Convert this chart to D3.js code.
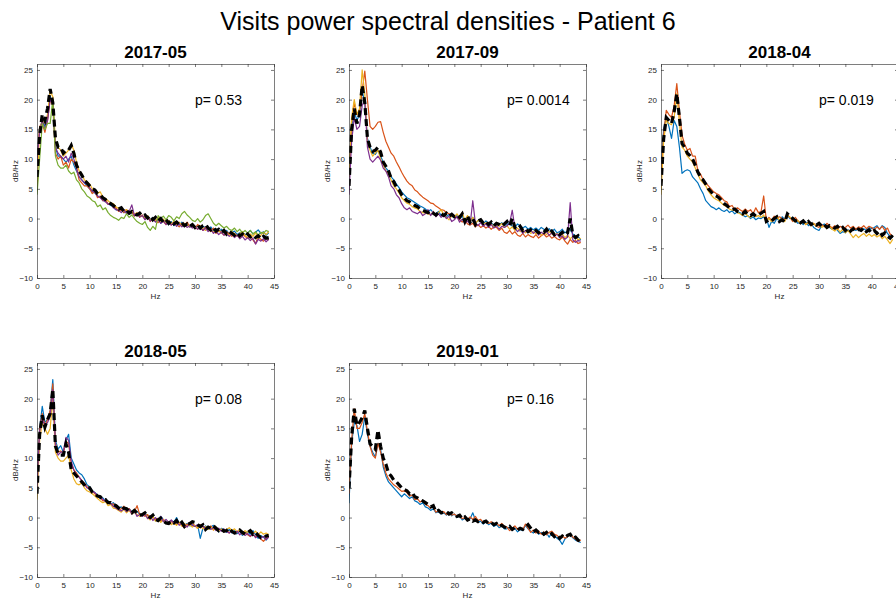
<!DOCTYPE html>
<html>
<head>
<meta charset="utf-8">
<script src="https://cdn.jsdelivr.net/npm/d3@7"></script>
<style>
  html, body { margin: 0; padding: 0; background: #fff; }
  svg { display: block; font-family: "Liberation Sans", Arial, Helvetica, sans-serif; }
</style>
</head>
<body>
<svg id="chart" width="896" height="600"></svg>
<script>
// ---------------- DATA ----------------
const mainTitle = "Visits power spectral densities - Patient 6";
const panelTitles = ["2017-05", "2017-09", "2018-04", "2018-05", "2019-01"];
const pValues = ["0.53", "0.0014", "0.019", "0.08", "0.16"];
const xTicks = [0, 5, 10, 15, 20, 25, 30, 35, 40, 45];
const yTicks = [-10, -5, 0, 5, 10, 15, 20, 25];
const xLabel = "Hz";
const yLabel = "dB/Hz";

const freqs = [
  0, 0.5, 1, 1.5, 2, 2.5, 3, 3.5, 4, 4.5,
  5, 5.5, 6, 6.5, 7, 7.5, 8, 8.5, 9, 9.5,
  10, 10.5, 11, 11.5, 12, 12.5, 13, 13.5, 14, 14.5,
  15, 15.5, 16, 16.5, 17, 17.5, 18, 18.5, 19, 19.5,
  20, 20.5, 21, 21.5, 22, 22.5, 23, 23.5, 24, 24.5,
  25, 25.5, 26, 26.5, 27, 27.5, 28, 28.5, 29, 29.5,
  30, 30.5, 31, 31.5, 32, 32.5, 33, 33.5, 34, 34.5,
  35, 35.5, 36, 36.5, 37, 37.5, 38, 38.5, 39, 39.5,
  40, 40.5, 41, 41.5, 42, 42.5, 43, 43.5, 44
];

// Panel 1: 2017-05
const p1Blue = [10,15,16.5,15.5,17,20.5,19.5,12,10.5,10.5, 10,9.5,10,10.5,9,8,7,6.5,6,5.5, 5,4.5,4.3,3.8,3.6,3,3,2.5,2.2,2, 1.5,1.3,1.6,1,1.2,0.7,1,0.5,0.8,0.3, 0.5,0,0.4,-0.3,0.2,-0.5,0,-0.8,-0.3,-0.6, -1,-0.5,-1.2,-0.7,-1.1,-0.6,-1.3,-0.9,-1.5,-1, -1.6,-1.2,-1.8,-1.3,-1.5,-1.9,-1.4,-2,-1.7,-2.2, -1.8,-2.4,-2,-2.6,-2.3,-2.1,-2.7,-2.4,-2.2,-2.8, -2.4,-2,-2.6,-2.3,-1.9,-2.5,-2.2,-2.8,-2.4];
const p1Orange = [9,15.5,16,14.5,16.5,20,19,11,10,10.5, 9,9.5,8.5,10,9.5,8.5,6.5,6,5.5,5.5, 5,4.2,4.5,3.5,3.8,3,3.2,2.4,2.6,2, 1.8,1.2,1.5,1,1.5,0.8,1.1,0.4,0.9,0.2, 0.6,-0.1,0.3,-0.5,0.1,-0.3,-0.7,0,-0.5,-1, -0.4,-1.1,-0.6,-1,-1.4,-0.8,-1.2,-0.6,-1.4,-1.1, -1.7,-1,-1.5,-2,-1.4,-1.8,-2.2,-1.6,-2.5,-2, -2.3,-2.8,-2.2,-2.6,-3,-2.5,-2.9,-3.2,-2.6,-3, -3.3,-2.8,-3.6,-4.2,-3,-3.5,-3.8,-3.2,-3.6];
const p1Yellow = [4.5,15,16.5,16,17.5,21.5,20.5,13,12,11.5, 10.5,11,11.5,12.5,11.5,9.5,8,7.5,6.5,6.2, 5.8,5,4.8,4.2,4.5,3.6,3.4,3,2.6,2.5, 2,1.7,1.8,1.3,1.5,1,1.3,0.7,1,0.5, 0.4,0.1,0.5,-0.3,0,-0.4,0.2,-0.5,-0.1,-0.7, -0.3,-0.9,-0.5,-1,-0.6,-1.2,-0.8,-1.1,-1.4,-0.9, -1.4,-1.8,-1.2,-1.6,-2,-1.5,-1.9,-2.3,-1.8,-2.1, -2.5,-2,-2.4,-2.8,-2.2,-2.6,-3,-2.5,-2.2,-2.8, -3.2,-2.6,-3,-2.4,-3.3,-2.8,-2.3,-2.7,-2.2];
const p1Purple = [10,14.5,16.5,15,16.5,20,19.5,12,11,10.5, 10,10.5,9.5,11,10,8.5,7,6.5,6,5.8, 5.2,4.6,4.4,3.8,3.5,3.1,2.8,2.4,2.5,1.8, 1.5,1.4,1,1.5,0.8,1.2,2.3,0.5,0.9,0.3, 0.5,-0.2,0.3,-0.4,0,-0.6,-0.2,-0.8,-0.4,-1, -0.6,-1.1,-0.7,-1.3,-0.9,-1.4,-1,-1.5,-1.2,-1.6, -1.3,-1.8,-1.5,-2,-1.6,-2.2,-1.8,-2.5,-2.1,-2.7, -2.3,-2.8,-2.5,-3,-2.6,-3.2,-2.8,-3.4,-3,-3.6, -3.2,-3.7,-3.3,-4.3,-3.5,-3.8,-3.4,-3.9,-3.5];
const p1Green = [4,10,16,15,16,16,20,10.5,9,8.5, 8.5,9,8,7.5,7.8,6.5,6,5,4.5,3.8, 3.5,3,2.8,2,2.3,1.5,1.8,1,0.5,0.2, 0,-0.3,0.2,0,0.8,0.2,0.6,0,-0.5,-0.8, -1,-0.5,-1.5,-2,-1.3,-1.8,0.5,0,0.4,-0.2, 0.5,0.2,-0.4,0.3,0,0.8,1.2,0.6,0.2,-0.3, -0.5,0,-0.6,-0.2,0.5,0.8,0,-0.8,-1.2,-0.8, -1.2,-1.6,-1.3,-1.8,-2,-1.6,-2.2,-1.8,-2.4,-2, -2.5,-2,-2.6,-2.2,-2.8,-2.3,-2.5,-2,-2.2];
const p1Mean = [7,14,17.5,16.5,18.5,21.8,19.5,13.5,12,12, 11,11.5,11.5,12.3,11,9,8,7.3,6.5,6, 5.5,5,4.8,4.2,4,3.5,3.2,2.8,2.5,2.2, 1.8,1.6,1.8,1.2,1.4,0.9,1.2,0.8,0.6,0.9, 0.4,0.6,0.1,0.5,-0.2,0.2,-0.4,0,-0.6,-0.2, -0.8,-0.4,-0.9,-0.6,-1,-0.7,-1.2,-0.9,-1.3,-1, -1.5,-1.1,-1.6,-1.2,-1,-1.6,-1.9,-1.5,-2.1,-1.8, -2.3,-2,-2.6,-2.2,-2.5,-2.8,-2.4,-2.9,-2.6,-3, -2.6,-3.1,-2.8,-3.2,-2.9,-3.4,-3,-3.3,-3.2];

// Panel 2: 2017-09
const p2Blue = [8,15,18,16.5,17.5,21.5,19.5,13.5,12,11, 10.8,11.5,10.5,9.5,8.5,8,7,6.5,5.8,5.2, 4.5,4,3.5,3.3,3,2.7,2.4,2.1,1.9,1.6, 1.2,1.5,1,0.8,1.2,0.5,0.9,0.3,0.7,0.4, 0.2,0.5,-0.1,0.4,-0.3,0.1,-0.5,0.2,-0.8,-0.3, -0.5,-0.9,-0.4,-1,-0.7,-1.2,-0.8,-1.1,-0.7,-1.2, -1,-0.6,-1.3,-1.5,-0.9,-1.2,-1.6,-1.3,-1.8,-1.5, -1.9,-1.6,-2,-1.5,-1.8,-2.1,-1.7,-2.2,-1.8,-2.4, -2.2,-1.8,-2.4,-2.1,-1.8,-2.6,-2.9,-3,-3.6];
const p2Orange = [7,16,19.5,17.5,18,21.5,24.8,20,15.5,15, 15.5,16.2,16.3,14.5,13,12,11,10.5,9.5,8.7, 7.8,7,6.3,5.8,5.5,4.8,4.5,4,3.6,3.3, 3,2.6,2.5,2.1,1.8,1.5,1.4,1,0.8,0.5, 0.5,0.2,-0.2,-0.6,-0.3,-0.9,-1.1,-0.8,-1.4,-1, -1.5,-1.2,-1.6,-1.3,-1.8,-1.4,-1.5,-2,-1.6,-2.3, -2.5,-2,-2.6,-2.2,-2.8,-3,-2.5,-3.1,-2.7,-3, -3.2,-2.7,-3.3,-2.9,-2.6,-3.1,-2.8,-3.3,-3,-3.4, -3.6,-3.1,-3.8,-4.3,-3.5,-4,-3.7,-4.2,-4];
const p2Yellow = [7,17,20,17.5,18.5,25,21,13,11.5,10.5, 11,11.5,10,9,8,7.5,6.5,5.5,5,4.3, 3.5,3,2.6,2.4,2,1.8,1.6,1.2,1,0.9, 0.8,0.6,1.2,0.5,1,1.5,0.6,0.2,-0.2,0.4, 0.3,0.8,0.1,1,-0.3,0.5,-0.5,0.2,-0.8,-0.3, -0.6,-1,-0.7,-1.2,-0.9,-1.4,-1,-1.3,-0.8,-1.5, -1.2,-1.8,-1.4,-2,-1.6,-2.2,-1.9,-2.4,-2,-2.5, -2.2,-2.6,-2.3,-2.8,-2.4,-2.7,-2.2,-2.6,-2.9,-2.5, -3,-2.6,-3.2,-2.8,-3.4,-3,-2.9,-3.6,-3.3];
const p2Purple = [4,13,17,15,15.5,19,20,12,10,9.5, 10,10.5,9.8,8.5,8,7,5.5,5,4,3.5, 2.5,1.8,1.5,1.8,1.2,1,0.8,1.2,0.5,0.8, 1.5,0.5,1.2,0.3,0.8,0.2,0.6,0,0.4,-0.5, -0.2,0.3,-0.6,-0.1,-0.8,-0.4,-1,3,-0.8,-1.2, -0.7,-1.3,-0.9,-1.5,-1,-1.6,-1.2,-1.8,-1.3,-1.5, -1.2,-0.8,1.4,-1.6,-2.2,-1.8,-2.5,-2,-2.3,-1.9, -2.5,-2.1,-2.8,-2.3,-2.6,-2.2,-2.8,-2.4,-3,-2.6, -3.2,-2.9,-3.5,-3.1,2.7,-3.6,-4,-3.7,-3.8];
const p2Mean = [5.5,15,18.5,16,17.5,22.4,19.5,13.5,12,11.3, 11.5,12,11.2,9.5,8.8,8,6.8,6.2,5.3,4.8, 4,3.5,3,2.8,2.5,2.2,2,1.6,1.4,1.2, 1,1.3,0.9,0.6,1,0.8,0.5,0.9,0.4,0.7, 0.3,0.6,0.2,0.8,-0.5,0.5,-0.6,0,-1,-0.4, -0.2,-0.8,-0.5,-1,-0.6,-1.2,-0.8,-1,-1.3,-0.9, -0.5,-1.2,0,-1.5,-1.8,-1.3,-2,-1.7,-2.2,-1.9, -2.3,-2,-2.4,-2.1,-2.3,-1.8,-2.5,-2.1,-2.7,-2.4, -2.7,-2.3,-2.8,-2.4,0,-2.7,-3.2,-2.9,-3.5];

// Panel 3: 2018-04
const p3Blue = [8,15,17,15.5,13.5,16.5,15.5,12,7.6,8, 8.2,8,7,6.5,6,5,4.2,3,2.5,2, 1.8,1.5,1.8,1.4,1.2,1.5,1,1.3,0.8,1.1, 1,0.6,0.3,0.5,0,0.3,-0.2,0.1,0,0.3, 0.2,-1.5,-0.5,-0.8,0,-0.4,0.3,-0.2,0.5,0, 0.2,-0.4,-0.8,-0.5,-1,-0.6,-1.2,-0.8,-1.5,-1.8, -2,-1.2,-0.9,-1.3,-1.5,-1.8,-1.4,-2,-2.5,-2.2, -2.4,-1.9,-2.2,-1.8,-2,-1.6,-2.1,-1.7,-2,-1.5, -1.7,-1.5,-1.2,-1.8,-1.2,-1.5,-2.5,-3,-3.2];
const p3Orange = [7,14,18.2,17.5,17,19,22.7,18,14,12.5, 11.5,11.8,10.5,10.5,8,7.5,6.5,6,5.5,5, 4.5,4.2,4,3.5,3,2.8,2,2.2,1.5,1.8, 1.5,1.2,1.6,1.2,1.5,0.8,1.8,1,1.2,3.8, -0.3,0.2,-0.3,0.4,0,0.3,0,-0.2,0.5,0.2, -0.5,0.2,-0.4,-0.8,-0.3,-1,-0.6,-1.2,-0.8,-1.3, -1.5,-1,-1.4,-0.8,-1.2,-1.6,-1.2,-1.8,-1.3,-1.6, -1.5,-1.1,-1.6,-1.3,-1.8,-1.4,-1.6,-1.2,-1.7,-1.3, -1.5,-1.9,-1.4,-1.8,-1.3,-2,-1.6,-2.6,-3];
const p3Yellow = [4,13,16.5,16,15.8,17,21,16,12,11.5, 10.5,10,9.5,8.5,7.5,6.5,6,5.5,4.6,4, 3.5,3.2,3,2.6,2.2,2,1.6,1.4,1.5,1, 0.8,0.5,1,0.4,0.2,0.6,0.3,0.5,0.2,0.6, -0.4,0,-0.5,-0.2,0.4,-0.3,0,-0.5,0.6,0.2, -0.2,-0.6,-0.3,-0.9,-0.5,-1,-0.6,-1.2,-0.8,-1.3, -1,-1.5,-1.2,-1.7,-1.3,-1.8,-2.1,-1.6,-2.3,-1.8, -2.4,-2,-2.6,-3.2,-2.7,-3.2,-2.8,-2.5,-3,-2.6, -3,-2.7,-3.1,-2.8,-3.4,-3,-3.6,-4.2,-3.5];
const p3Mean = [5.5,13.4,17,16.5,16,18,21,17,12.6,12, 11,10.6,10,9,7.8,7,6.5,5.8,5,4.5, 4,3.8,3.5,3,2.5,2.2,1.8,1.5,1.6,1.2, 1,0.8,1.2,0.6,0.5,0.8,0.4,0.6,0.9,1.2, -0.5,-0.2,-0.4,0,0.3,-0.5,-0.2,-0.6,0.8,0.4, 0,-0.4,-0.2,-0.7,-0.4,-0.9,-0.5,-1,-0.7,-1.1, -0.8,-1.3,-1,-1.5,-1.2,-1.4,-1.6,-1.3,-1.8,-1.5, -2,-1.6,-2.1,-1.7,-2.2,-1.8,-2,-1.6,-2.2,-1.9, -2.4,-2,-2.5,-2.1,-2.8,-2.4,-3,-3.3,-2.8];

// Panel 4: 2018-05
const p4Blue = [6,15,18.7,16,16.5,18,23.2,13,11.5,12.1, 11,13,14,10,9,8,7.5,7.2,6.5,5.5, 5.2,4.5,4.2,3.8,3.2,3.3,2.8,2.8,2.3,2.5, 1.8,1.6,1.8,1.4,1.2,1.5,1,0.8,1,0.6, 0.2,0.7,0.4,-0.2,0.2,-0.5,-0.2,0.2,-0.4,-0.8, -1,-0.5,-0.8,0,-1,-0.7,-1.3,-1,-1.4,-1.2, -1.5,-1.2,-3.5,-1.8,-1.4,-2,-1.6,-1.3,-1.9,-2.4, -1.8,-2.1,-2.5,-2,-2.6,-2.2,-2.7,-2.3,-3,-2.6, -2.4,-2.8,-2.2,-2.9,-3.5,-3,-3.3,-3.8,-3.2];
const p4Orange = [5,15,17.5,15.5,16.5,18,22.5,12.5,11,11.2, 10.8,12.8,12.5,9,8,7.5,6.8,6.2,5.8,5.2, 4.8,4.5,4,3.5,3.4,2.8,2.9,2.4,2.2,2.3, 1.8,1.2,1.5,1.9,1.3,1.5,0.8,1,2,0.5, 0.6,0.2,0.5,-0.2,0.1,-0.4,-0.1,-0.6,-0.3,-0.9, -1.1,-0.7,-0.9,-1.2,-0.8,-1.4,-1.7,-1.1,-1.3,-0.9, -1.4,-1.8,-1.2,-1.5,-2,-1.7,-1.4,-2.1,-1.7,-2.2, -2,-2.4,-2.1,-2.6,-2.2,-2.7,-2.4,-2.1,-2.8,-2.5, -2.9,-3.2,-2.7,-3.3,-2.9,-3.6,-4,-3.5,-3.2];
const p4Yellow = [3,13,16,15,14,15,20,11,10,9.5, 9.5,10,10.5,8,6.5,5.7,5.5,5.8,5,4.5, 4.3,4,3.6,3.2,2.8,2.5,2.7,2,2.2,1.6, 1.5,1.2,0.9,1.4,0.8,1.2,0.6,0.9,0.5,0.2, 0.3,0.7,0,-0.4,0.2,-0.6,-0.2,-0.8,-0.4,-1, -0.7,-1.2,-0.8,-1.3,-0.9,-1.4,-1,-1.5,-1.2,-1.6, -1.3,-1.8,-1.4,-1.9,-1.5,-2,-1.6,-2.1,-1.8,-2.3, -1.9,-2.4,-2,-1.7,-2.2,-1.9,-2.4,-2,-2.6,-2.2, -2.5,-2.1,-2.7,-2.3,-2.9,-2.4,-2.8,-2.6,-2.9];
const p4Purple = [5,14.5,16.5,15.5,16,17,21.5,12,10.5,11, 11,13.5,13,9.5,8,7.2,6.8,6.2,5.6,5, 4.8,4.4,4.2,3.7,3.3,3.1,2.7,2.6,2.4,1.9, 1.6,1.3,1.1,1.5,1,1.4,0.6,1.1,0.2,0.5, 0.2,0.6,-0.2,0.3,-0.5,0,-0.6,0.2,-0.7,-0.3, -0.8,-0.4,-1,-0.6,-1.3,-0.9,-1.2,-1.6,-0.9,-1.3, -1.5,-1.2,-1.7,-1.4,-1.9,-1.5,-2,-1.7,-2.2,-1.8, -2.3,-1.9,-2.4,-2.6,-2.2,-2.7,-2.3,-2.9,-2.5,-3, -2.7,-3.1,-2.8,-3.4,-3,-3.5,-3.2,-3.7,-3.3];
const p4Mean = [4,14,17.2,15.2,16.5,17.5,21.6,12,10.8,10.5, 10.5,12.4,11,8,7.5,7,6.5,6,5.5,5, 5,4.3,4,3.6,3.5,3,3,2.5,2.5,2.2, 2,1.6,1.2,1.6,1.5,1,0.8,1.2,0.8,0.4, 0.5,0.8,0.3,0,0.4,-0.3,-0.5,-0.1,-0.6,-0.9, -1,-0.6,-0.9,-0.5,-1.2,-0.8,-1.5,-1.1,-1,-0.7, -0.8,-1.2,-1.5,-1.2,-2,-1.6,-1.8,-1.4,-1.8,-2.2, -1.9,-2.3,-2.2,-1.8,-2.3,-2.6,-2.5,-2.1,-2.5,-2.8, -2.5,-2.2,-2.8,-2.5,-3,-3.4,-3.5,-3.1,-3];

// Panel 5: 2019-01
const p5Blue = [2.4,12.5,16,15.5,12.8,14,17,14,12,11, 10.2,12.5,11.5,8.5,7,6,5.5,5,4.5,4, 3.5,4,3.6,3.2,3.5,2.8,2.6,2.2,2.5,1.8, 1.6,1.2,1.5,0.8,1,0.6,0.8,0.4,0.9,0.3, 0.6,0,0.3,-0.4,-0.1,-0.5,-0.2,0.8,-0.4,-0.8, -0.6,-1.1,-0.7,-1.2,-0.9,-1.5,-1.2,-1.7,-1.4,-1.9, -1.9,-1.6,-2.1,-1.8,-2.4,-2,-2.2,-1.3,-1.9,-2.3, -2.6,-2.2,-2.8,-2.5,-3,-2.6,-3.3,-2.5,-2.9,-3.5, -3.8,-4.5,-3.6,-3.2,-2.9,-3.4,-3.8,-4,-4.2];
const p5Orange = [4,13,18.3,15,15,16,17.5,14.5,12,10.5, 10,12.5,11,9,7.5,6.5,6,5.5,5.2,4.8, 4.4,4.5,4.2,3.6,3.8,3,3.2,2.6,2.9,2.2, 2,1.6,1.8,0.9,1.2,0.7,1,0.5,0.8,0.4, 0.6,0.2,0.5,-0.2,0,-0.5,0.1,-0.3,0.2,-0.5, -0.3,-0.9,-0.6,-1,-0.7,-1.2,-0.9,-1.4,-1,-1.5, -1.6,-2.2,-1.8,-1.4,-2,-1.7,-2.1,-1.1,-1.8,-2.5, -2.1,-2.6,-2.3,-2.8,-2.4,-2.9,-2.5,-2.3,-2.8,-3, -3.4,-3,-3.5,-3.2,-2.8,-3.3,-3.6,-4,-3.8];
const p5Mean = [4.9,13.5,18.3,15.5,16,16.8,18,15,12.4,12, 11.5,14.7,12,10,9,7.5,7,6.3,6,5.5, 5,4.7,4.5,4,4.2,3.5,3.3,3,2.8,2.5, 2.2,1.8,2,1,1.2,0.8,0.9,1,0.6,0.8, 0.5,0.2,0.4,-0.2,0.1,-0.4,-0.2,-0.6,-0.4,-0.7, -0.5,-0.8,-0.6,-1,-0.8,-1.2,-1,-1.5,-1.3,-1.6, -1.8,-1.5,-2,-1.7,-2.1,-1.8,-2,-1.6,-1.2,-1.8, -2.4,-2.1,-2.5,-2.3,-2.8,-2.5,-3,-2.7,-3.2,-2.9, -3.5,-3.1,-3.4,-3,-2.8,-3.5,-3.3,-3.8,-4];

// ---------------- STYLE / LAYOUT ----------------
const COLORS = { blue: "#0072BD", orange: "#D95319", yellow: "#EDB120", purple: "#7E2F8E", green: "#77AC30" };

const panels = [
  { title: panelTitles[0], p: pValues[0], x: 37,  y: 64,  series: [["blue", p1Blue], ["orange", p1Orange], ["yellow", p1Yellow], ["purple", p1Purple], ["green", p1Green]], mean: p1Mean },
  { title: panelTitles[1], p: pValues[1], x: 349, y: 64,  series: [["blue", p2Blue], ["orange", p2Orange], ["yellow", p2Yellow], ["purple", p2Purple]], mean: p2Mean },
  { title: panelTitles[2], p: pValues[2], x: 661, y: 64,  series: [["blue", p3Blue], ["orange", p3Orange], ["yellow", p3Yellow]], mean: p3Mean },
  { title: panelTitles[3], p: pValues[3], x: 37,  y: 363, series: [["blue", p4Blue], ["orange", p4Orange], ["yellow", p4Yellow], ["purple", p4Purple]], mean: p4Mean },
  { title: panelTitles[4], p: pValues[4], x: 349, y: 363, series: [["blue", p5Blue], ["orange", p5Orange]], mean: p5Mean }
];
const W = 237, H = 214;

const svg = d3.select("#chart");

svg.append("text")
  .attr("x", 448).attr("y", 30)
  .attr("text-anchor", "middle")
  .attr("font-size", 25)
  .attr("fill", "#000")
  .text(mainTitle);

const AX = "#262626";

panels.forEach(pn => {
  const g = svg.append("g").attr("transform", `translate(${pn.x},${pn.y})`);
  const x = d3.scaleLinear().domain([0, 45]).range([0, W]);
  const y = d3.scaleLinear().domain([-10, 26]).range([H, 0]);

  // data
  const clipId = "clip" + pn.x + "_" + pn.y;
  g.append("clipPath").attr("id", clipId).append("rect").attr("width", W).attr("height", H);
  const plot = g.append("g").attr("clip-path", `url(#${clipId})`);
  const line = d3.line().x((d, i) => x(freqs[i])).y(d => y(d));
  pn.series.forEach(([c, vals]) => {
    plot.append("path").datum(vals)
      .attr("d", line)
      .attr("fill", "none")
      .attr("stroke", COLORS[c])
      .attr("stroke-width", 1.2)
      .attr("stroke-linejoin", "round");
  });
  plot.append("path").datum(pn.mean)
    .attr("d", line)
    .attr("fill", "none")
    .attr("stroke", "#000")
    .attr("stroke-width", 3.2)
    .attr("stroke-dasharray", "7,4");

  // axes
  const styleAxis = sel => {
    sel.selectAll("path.domain").attr("stroke", AX).attr("stroke-width", 0.6);
    sel.selectAll(".tick line").attr("stroke", AX).attr("stroke-width", 0.6);
    sel.selectAll(".tick text").attr("fill", AX).attr("font-size", 8)
      .attr("font-family", "'Liberation Sans', Arial, sans-serif");
  };
  g.append("g").attr("transform", `translate(0,${H})`)
    .call(d3.axisBottom(x).tickValues(xTicks).tickSizeInner(-3).tickSizeOuter(0).tickPadding(5))
    .call(styleAxis);
  g.append("g")
    .call(d3.axisLeft(y).tickValues(yTicks).tickSizeInner(-3).tickSizeOuter(0).tickPadding(4))
    .call(styleAxis);
  g.append("g")
    .call(d3.axisTop(x).tickValues(xTicks).tickSizeInner(-3).tickSizeOuter(0).tickFormat(""))
    .call(styleAxis);
  g.append("g").attr("transform", `translate(${W},0)`)
    .call(d3.axisRight(y).tickValues(yTicks).tickSizeInner(-3).tickSizeOuter(0).tickFormat(""))
    .call(styleAxis);

  // labels
  g.append("text").attr("x", W / 2).attr("y", H + 21)
    .attr("text-anchor", "middle").attr("font-size", 8).attr("fill", AX).text(xLabel);
  g.append("text").attr("transform", `translate(-19,${H / 2}) rotate(-90)`)
    .attr("text-anchor", "middle").attr("font-size", 8).attr("fill", AX).text(yLabel);

  g.append("text").attr("x", W / 2).attr("y", -6)
    .attr("text-anchor", "middle").attr("font-size", 17).attr("font-weight", "bold")
    .attr("fill", "#000").text(pn.title);

  g.append("text").attr("x", x(30)).attr("y", y(20))
    .attr("dy", "0.35em").attr("font-size", 14).attr("fill", "#000")
    .text("p= " + pn.p);
});
</script>
</body>
</html>
